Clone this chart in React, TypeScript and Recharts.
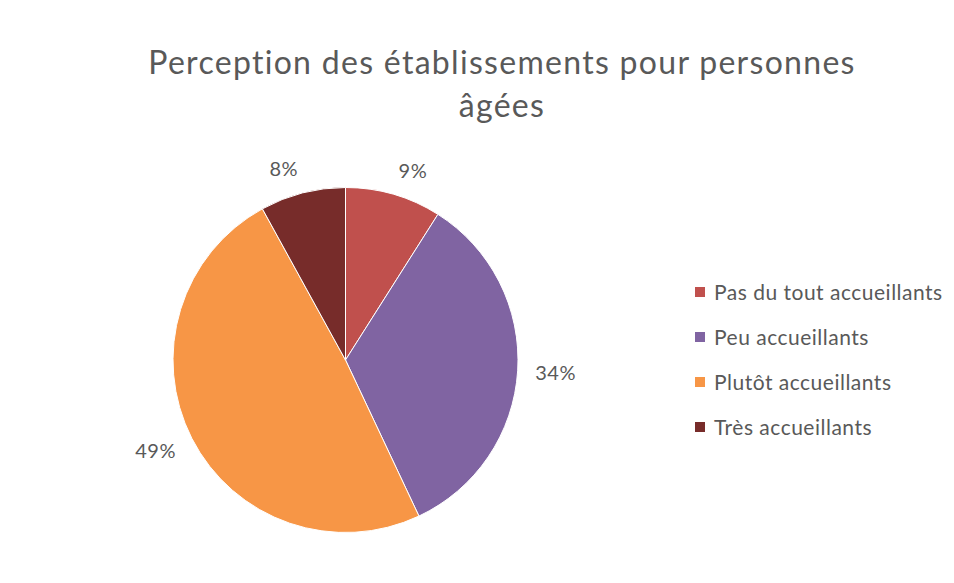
import { PieChart, Pie, Cell, Legend } from 'recharts';

const categories = [
  'Pas du tout accueillants',
  'Peu accueillants',
  'Plutôt accueillants',
  'Très accueillants',
];
const shares = [9, 34, 49, 8];
const colors = ['#C0504D', '#8064A2', '#F79646', '#772C2A'];

const data = categories.map((name, i) => ({ name, value: shares[i] }));

const RADIAN = Math.PI / 180;
const FONT = 'Lato, "Open Sans", sans-serif';

function renderLabel(props: any) {
  const { cx, cy, midAngle, outerRadius, value } = props;
  const cos = Math.cos(-midAngle * RADIAN);
  const sin = Math.sin(-midAngle * RADIAN);
  const r = outerRadius + 17.5;
  const x = cx + r * cos;
  const y = cy + r * sin + 8 * sin;
  return (
    <text
      x={x}
      y={y}
      fill="#595959"
      fontSize={20}
      letterSpacing={0.6}
      fontFamily={FONT}
      textAnchor={cos >= 0 ? 'start' : 'end'}
      dominantBaseline="central"
    >
      {`${value}%`}
    </text>
  );
}

function LegendContent({ payload }: any) {
  return (
    <div style={{ fontFamily: FONT }}>
      {(payload || []).map((entry: any) => (
        <div
          key={entry.value}
          style={{
            display: 'flex',
            alignItems: 'center',
            height: 45,
            color: '#595959',
            fontSize: 21,
            letterSpacing: 0.5,
          }}
        >
          <span
            style={{ width: 10, height: 10, background: entry.color, marginRight: 9, display: 'inline-block' }}
          />
          {entry.value}
        </div>
      ))}
    </div>
  );
}

export default function App() {
  return (
    <div style={{ position: 'absolute', left: 0, top: 0, width: 954, height: 583, background: '#fff' }}>
      <div
        style={{
          position: 'absolute',
          left: 50,
          width: 904,
          top: 40,
          textAlign: 'center',
          fontFamily: FONT,
          fontSize: 32,
          letterSpacing: 1.3,
          lineHeight: '43px',
          color: '#595959',
        }}
      >
        Perception des établissements pour personnes
        <br />
        âgées
      </div>
      <PieChart width={954} height={583} margin={{ top: 0, right: 0, bottom: 0, left: 0 }}>
        <Pie
          data={data}
          dataKey="value"
          nameKey="name"
          cx={345.5}
          cy={360}
          outerRadius={172.5}
          startAngle={90}
          endAngle={-270}
          stroke="#ffffff"
          strokeWidth={1}
          label={renderLabel}
          labelLine={false}
          isAnimationActive={false}
        >
          {data.map((d, i) => (
            <Cell key={d.name} fill={colors[i]} />
          ))}
        </Pie>
        <Legend
          layout="vertical"
          align="right"
          verticalAlign="top"
          content={<LegendContent />}
          wrapperStyle={{ left: 695, top: 269, width: 259 }}
        />
      </PieChart>
    </div>
  );
}
